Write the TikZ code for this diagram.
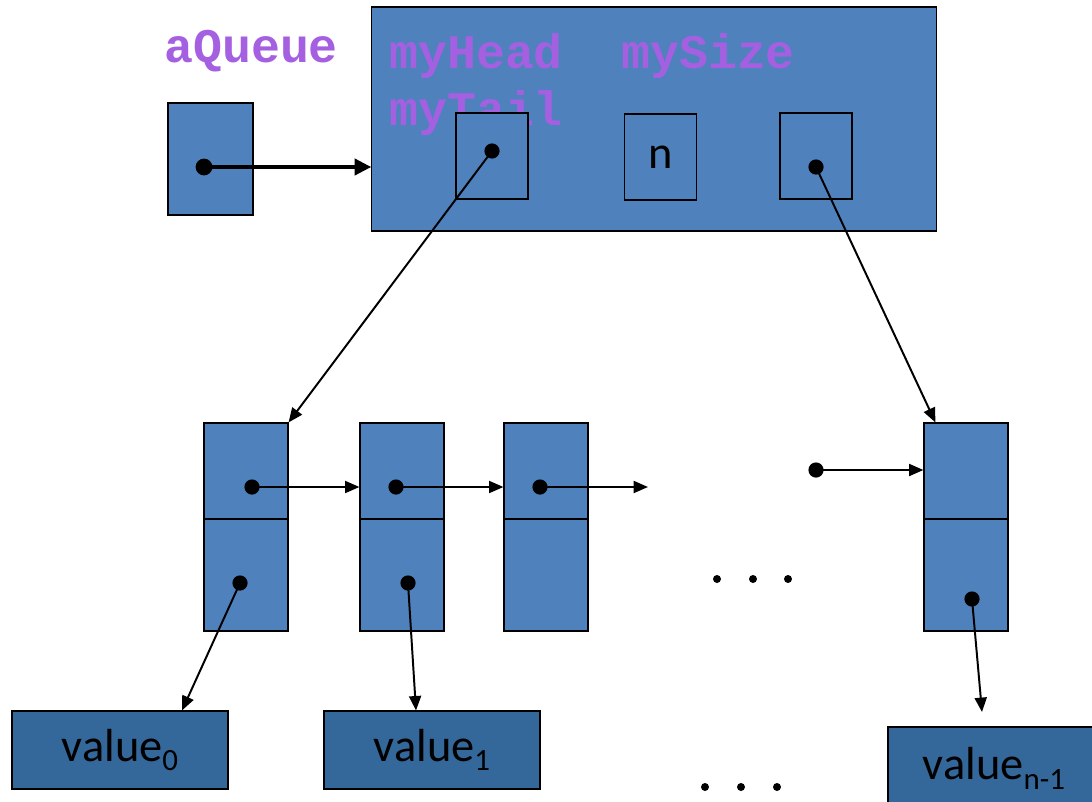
\documentclass[tikz,border=0pt]{standalone}
\usepackage{fontspec}
\setmainfont{Carlito}
\newfontfamily\codefont{Liberation Mono}
\usetikzlibrary{arrows.meta, positioning, calc}
\definecolor{cellblue}{RGB}{79,129,189}
\definecolor{valblue}{RGB}{52,103,154}
\definecolor{fieldpurple}{RGB}{165,95,225}
\newcommand{\valsub}[1]{\raisebox{-0.2em}{\fontsize{22}{26}\selectfont #1}}
\tikzset{
    cellbox/.style={rectangle, draw=black, fill=cellblue, line width=0.8pt, inner sep=0pt},
    fieldbox/.style={cellbox, minimum width=1.8cm, minimum height=2.15cm, font=\fontsize{33}{40}\selectfont},
    nextcell/.style={cellbox, minimum width=2.1cm, minimum height=2.4cm},
    datacell/.style={cellbox, minimum width=2.1cm, minimum height=2.8cm},
    valbox/.style={rectangle, draw=black, fill=valblue, line width=0.8pt, minimum width=5.4cm, minimum height=1.95cm, inner sep=0pt, font=\fontsize{33}{40}\selectfont},
    fieldlbl/.style={text=fieldpurple, font=\codefont\bfseries\fontsize{34.3}{41}\selectfont, inner sep=0pt, anchor=west},
    ptrarrow/.style={-{Triangle[length=0.36cm, width=0.3cm]}, line width=1.4pt},
    bigarrow/.style={-{Triangle[length=0.42cm, width=0.4cm]}, line width=3.5pt}
}

\begin{document}
\begin{tikzpicture}[x=0.025cm, y=-0.025cm]
\useasboundingbox (0,0) rectangle (1092,802);

\node[fieldlbl] (qname) at (164,51) {aQueue};
\node[cellbox, minimum width=2.125cm, minimum height=2.8cm] (qptr) at (210.5,159) {};
\node[cellbox, minimum width=14.1cm, minimum height=5.6cm] (queue) at (654,119) {};
\node[fieldlbl] (headlbl) at (389,56) {myHead};
\node[fieldlbl] (sizelbl) at (621,56) {mySize};
\node[fieldlbl] (taillbl) at (389,113) {myTail};
\node[fieldbox] (headf) at (492,156) {};
\node[fieldbox] (sizef) at (660.5,157) {n};
\node[fieldbox] (tailf) at (816,156) {};

\foreach \i/\x in {0/246, 1/402, 2/546, 3/966} {
    \node[nextcell] (next\i) at (\x,471) {};
    \node[datacell] (data\i) at (\x,575) {};
}

\node[valbox] (val0) at (120,750) {value\valsub{0}};
\node[valbox] (val1) at (432,750) {value\valsub{1}};
\node[valbox, minimum width=5.3cm, minimum height=2.075cm] (valn) at (994,768.5) {value\valsub{n-1}};

\coordinate (qdot) at (204,167);
\coordinate (hdot) at (492,151);
\coordinate (tdot) at (816,167);
\coordinate (ndot0) at (252,487);
\coordinate (ndot1) at (396,487);
\coordinate (ndot2) at (540,487);
\coordinate (ndot3) at (816,470);
\coordinate (vdot0) at (240,583);
\coordinate (vdot1) at (408,583);
\coordinate (vdot3) at (972,599);
\coordinate (nend) at (648,487);
\coordinate (vend) at (982,712);

\draw[bigarrow] (qdot) -- (qdot -| queue.west);
\draw[ptrarrow] (hdot) -- (next0.north east);
\draw[ptrarrow] (tdot) -- ([xshift=0.3cm]next3.north west);
\foreach \i/\j in {0/1, 1/2}
    \draw[ptrarrow] (ndot\i) -- (ndot\i -| next\j.west);
\draw[ptrarrow] (ndot2) -- (nend);
\draw[ptrarrow] (ndot3) -- (ndot3 -| next3.west);
\draw[ptrarrow] (vdot0) -- ([xshift=1.55cm]val0.north);
\draw[ptrarrow] (vdot1) -- ([xshift=-0.4cm]val1.north);
\draw[ptrarrow] (vdot3) -- (vend);

\fill (qdot) circle (0.21cm);
\foreach \p in {hdot, tdot, ndot0, ndot1, ndot2, ndot3, vdot0, vdot1, vdot3}
    \fill (\p) circle (0.19cm);

\foreach \x in {717, 753, 788}
    \fill (\x,579) circle (0.1cm);
\foreach \x in {705, 741, 777}
    \fill (\x,787) circle (0.1cm);

\end{tikzpicture}
\end{document}
